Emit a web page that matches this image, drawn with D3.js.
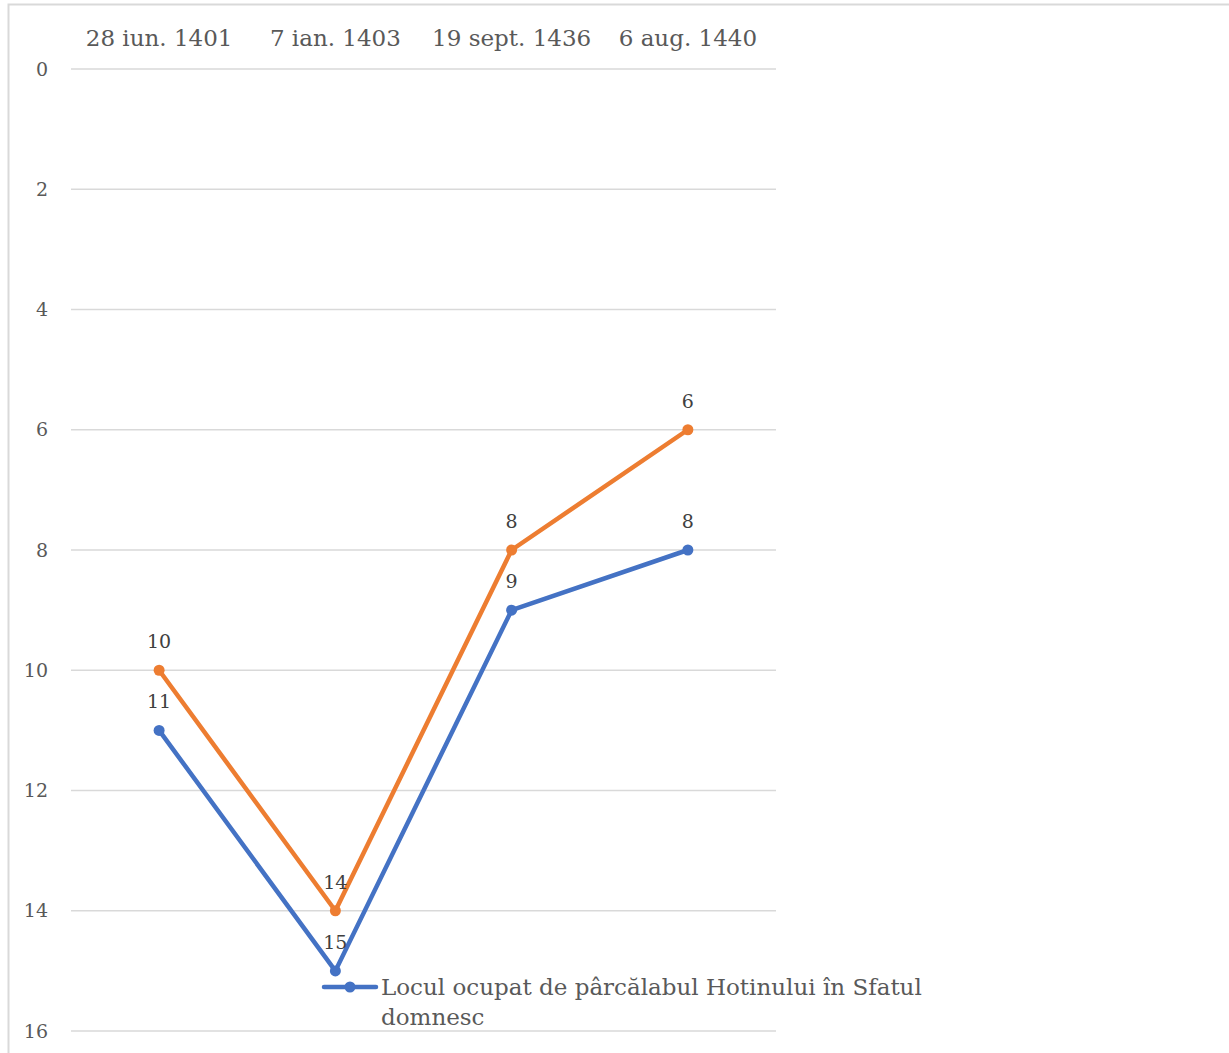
<!DOCTYPE html>
<html>
<head>
<meta charset="utf-8">
<script src="https://cdn.jsdelivr.net/npm/d3@7"></script>
<style>
  html, body { margin: 0; padding: 0; background: #fff; }
  svg { display: block; }
</style>
</head>
<body>
<svg id="chart" width="1229" height="1053"></svg>
<script>
// Dates of the council documents
const categories = ["28 iun. 1401", "7 ian. 1403", "19 sept. 1436", "6 aug. 1440"];
// Rank of the Hotin pârcălab in the princely council
const seriesBlue = [11, 15, 9, 8];
// Companion series drawn in orange
const seriesOrange = [10, 14, 8, 6];
const yTicks = [0, 2, 4, 6, 8, 10, 12, 14, 16];
const legendLabel = ["Locul ocupat de pârcălabul Hotinului în Sfatul", "domnesc"];

const FONT = "DejaVu Serif";
const svg = d3.select("#chart");

// Outer chart frame
svg.append("rect")
  .attr("x", 8.5).attr("y", 4.5)
  .attr("width", 1240).attr("height", 1100)
  .attr("fill", "none").attr("stroke", "#d9d9d9").attr("stroke-width", 2);

const x = d3.scalePoint().domain(categories).range([71, 776]).padding(0.5);
const y = d3.scaleLinear().domain([0, 16]).range([69, 1031]);

// Horizontal gridlines
svg.append("g").selectAll("line").data(yTicks).join("line")
  .attr("x1", 71).attr("x2", 776)
  .attr("y1", d => y(d)).attr("y2", d => y(d))
  .attr("stroke", "#d9d9d9").attr("stroke-width", 1.5);

// Value axis labels (reversed scale, 0 at top)
svg.append("g").selectAll("text").data(yTicks).join("text")
  .attr("x", 48).attr("y", d => y(d))
  .attr("dy", "0.35em")
  .attr("text-anchor", "end")
  .attr("font-family", FONT).attr("font-size", 19)
  .attr("fill", "#595959")
  .text(d => d);

// Category labels along the top
svg.append("g").selectAll("text").data(categories).join("text")
  .attr("x", d => x(d)).attr("y", 46)
  .attr("text-anchor", "middle")
  .attr("font-family", FONT).attr("font-size", 23)
  .attr("fill", "#595959")
  .text(d => d);

const line = d3.line().x((d, i) => x(categories[i])).y(d => y(d));

function drawSeries(values, color) {
  const g = svg.append("g");
  g.append("path").datum(values)
    .attr("d", line)
    .attr("fill", "none").attr("stroke", color)
    .attr("stroke-width", 4.5).attr("stroke-linejoin", "round").attr("stroke-linecap", "round");
  g.selectAll("circle").data(values).join("circle")
    .attr("cx", (d, i) => x(categories[i])).attr("cy", d => y(d))
    .attr("r", 5.5).attr("fill", color);
  g.selectAll("text").data(values).join("text")
    .attr("x", (d, i) => x(categories[i])).attr("y", d => y(d) - 22)
    .attr("text-anchor", "middle")
    .attr("font-family", FONT).attr("font-size", 19)
    .attr("fill", "#404040")
    .text(d => d);
}

drawSeries(seriesOrange, "#ED7D31");
drawSeries(seriesBlue, "#4472C4");

// Legend (blue series only)
const lg = svg.append("g");
lg.append("line")
  .attr("x1", 324).attr("x2", 376).attr("y1", 987).attr("y2", 987)
  .attr("stroke", "#4472C4").attr("stroke-width", 4.5).attr("stroke-linecap", "round");
lg.append("circle").attr("cx", 350).attr("cy", 987).attr("r", 5.5).attr("fill", "#4472C4");
lg.selectAll("text").data(legendLabel).join("text")
  .attr("x", 381).attr("y", (d, i) => 995 + i * 30)
  .attr("font-family", FONT).attr("font-size", 23)
  .attr("fill", "#595959")
  .text(d => d);
</script>
</body>
</html>
